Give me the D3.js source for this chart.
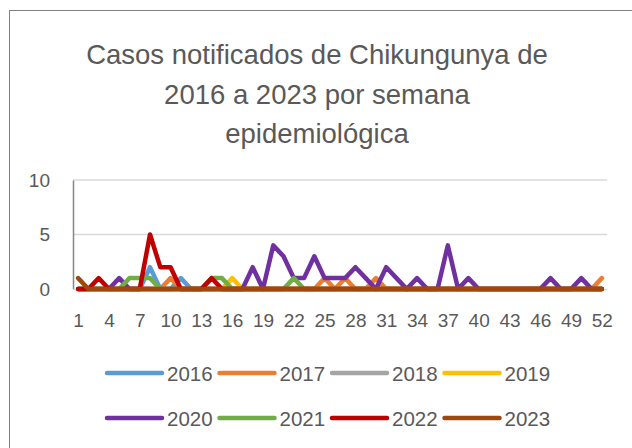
<!DOCTYPE html>
<html><head><meta charset="utf-8">
<script src="https://cdn.jsdelivr.net/npm/d3@7"></script>
<style>
html,body{margin:0;padding:0;background:#fff;}
text{font-family:"Liberation Sans",Arial,sans-serif;fill:#595959;}
</style></head>
<body><svg id="c" width="632" height="448"></svg>
<script>
const titleLines = ["Casos notificados de Chikungunya de", "2016 a 2023 por semana", "epidemiológica"];
const weeks = d3.range(1, 53);
const xTickLabels = [1,4,7,10,13,16,19,22,25,28,31,34,37,40,43,46,49,52];
const yTickLabels = [0,5,10];
const years = ["2016","2017","2018","2019","2020","2021","2022","2023"];
const colors = ["#5B9BD5","#ED7D31","#A5A5A5","#FFC000","#7030A0","#70AD47","#C00000","#9E480E"];

const s2016 = [0,0,0,0,0,0,0,2,0,0,1,0,0, 0,0,0,0,0,0,0,0,0,0,0,0,0, 0,0,0,0,0,0,0,0,0,0,0,0,0, 0,0,0,0,0,0,0,0,0,0,0,0,0];
const s2017 = [0,0,0,0,0,0,0,0,0,1,0,0,0, 0,0,0,0,0,0,0,0,0,0,0,1,0, 1,0,0,1,0,0,0,0,0,0,0,0,0, 0,0,0,0,0,0,0,0,0,0,0,0,1];
const s2018 = [0,0,0,0,0,0,0,0,0,0,0,0,0, 0,0,0,0,0,0,0,0,0,0,0,0,0, 0,0,0,0,0,0,0,0,0,0,0,0,0, 0,0,0,0,0,0,0,0,0,0,0,0,0];
const s2019 = [0,0,0,0,0,0,0,0,0,0,0,0,0, 0,0,1,0,0,0,0,0,0,0,0,0,0, 0,0,0,0,0,0,0,0,0,0,0,0,0, 0,0,0,0,0,0,0,0,0,0,0,0,0];
const s2020 = [0,0,0,0,1,0,0,0,0,0,0,0,0, 0,0,0,0,2,0,4,3,1,1,3,1,1, 1,2,1,0,2,1,0,1,0,0,4,0,1, 0,0,0,0,0,0,0,1,0,0,1,0,0];
const s2021 = [0,0,0,0,0,1,1,1,0,0,0,0,0, 1,1,0,0,0,0,0,0,1,0,0,0,0, 0,0,0,0,0,0,0,0,0,0,0,0,0, 0,0,0,0,0,0,0,0,0,0,0,0,0];
const s2022 = [0,0,1,0,0,0,0,5,2,2,0,0,0, 1,0,0,0,0,0,0,0,0,0,0,0,0, 0,0,0,0,0,0,0,0,0,0,0,0,0, 0,0,0,0,0,0,0,0,0,0,0,0,0];
const s2023 = [1,0,0,0,0,0,0,0,0,0,0,0,0, 0,0,0,0,0,0,0,0,0,0,0,0,0, 0,0,0,0,0,0,0,0,0,0,0,0,0, 0,0,0,0,0,0,0,0,0,0,0,0,0];
const seriesValues = [s2016,s2017,s2018,s2019,s2020,s2021,s2022,s2023];

(function(){
const svg = d3.select("#c");
svg.append("rect").attr("x",9.5).attr("y",10.5).attr("width",640).attr("height",460)
  .attr("fill","#fff").attr("stroke","#808080").attr("stroke-width",1);

svg.append("g").selectAll("text").data(titleLines).join("text")
  .attr("x",317).attr("y",(d,i)=>64+i*39.5).attr("text-anchor","middle")
  .style("font-size","27.5px").text(d=>d);

const pL=73, pR=607, pT=180, pB=289;
const x = d3.scalePoint().domain(weeks).range([pL,pR]).padding(0.5);
const y = d3.scaleLinear().domain([0,10]).range([pB,pT]);

svg.append("g").selectAll("line").data(yTickLabels.filter(v=>v>0)).join("line")
  .attr("x1",pL).attr("x2",pR).attr("y1",d=>y(d)).attr("y2",d=>y(d))
  .attr("stroke","#d9d9d9").attr("stroke-width",1.5);

const yAxis = svg.append("g").attr("transform",`translate(${pL},0)`)
  .call(d3.axisLeft(y).tickValues(yTickLabels).tickSize(0).tickPadding(23));
yAxis.select(".domain").attr("stroke","#868686").attr("stroke-width",1.5);
yAxis.selectAll("text").style("font-size","19px").attr("fill","#595959")
  .style("font-family","'Liberation Sans',Arial,sans-serif");

const xAxis = svg.append("g").attr("transform",`translate(0,${pB})`)
  .call(d3.axisBottom(x).tickValues(xTickLabels).tickSize(0).tickPadding(25));
xAxis.select(".domain").attr("stroke","#d9d9d9").attr("stroke-width",1.5);
xAxis.selectAll("text").style("font-size","19px").attr("fill","#595959")
  .style("font-family","'Liberation Sans',Arial,sans-serif");

const line = d3.line().x((d,i)=>x(weeks[i])).y(d=>y(d));
svg.append("g").selectAll("path").data(seriesValues).join("path")
  .attr("d",line).attr("fill","none")
  .attr("stroke",(d,i)=>colors[i]).attr("stroke-width",4.5)
  .attr("stroke-linejoin","round").attr("stroke-linecap","round");

const lg = svg.append("g");
years.forEach((yr,i)=>{
  const col=i%4, row=Math.floor(i/4);
  const lx=107+col*112.5, ly=373+row*45;
  lg.append("line").attr("x1",lx).attr("x2",lx+55).attr("y1",ly).attr("y2",ly)
    .attr("stroke",colors[i]).attr("stroke-width",4.5).attr("stroke-linecap","round");
  lg.append("text").attr("x",lx+60).attr("y",ly+7.5).style("font-size","20.5px").text(yr);
});
})();
</script></body></html>
